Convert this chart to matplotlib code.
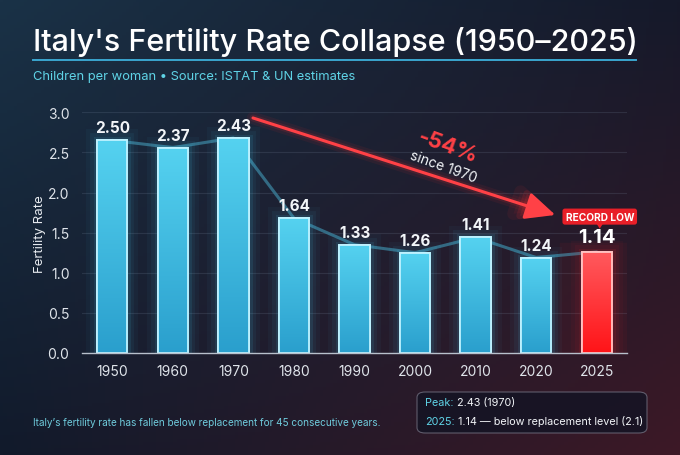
import numpy as np
import matplotlib
matplotlib.use("Agg")
import matplotlib.pyplot as plt
from matplotlib.patches import FancyArrowPatch, FancyBboxPatch, Polygon
from matplotlib.colors import LinearSegmentedColormap, to_rgb

plt.rcParams['font.family'] = ['Inter', 'DejaVu Sans']

# ---------------- DATA ----------------
years       = ["1950", "1960", "1970", "1980", "1990", "2000", "2010", "2020", "2025"]
rate_labels = ["2.50", "2.37", "2.43", "1.64", "1.33", "1.26", "1.41", "1.24", "1.14"]
# bar heights as drawn in the picture
bar_tops    = [2.65, 2.56, 2.68, 1.68, 1.35, 1.25, 1.44, 1.19, 1.26]
y_ticks     = [0.0, 0.5, 1.0, 1.5, 2.0, 2.5, 3.0]

TITLE    = "Italy's Fertility Rate Collapse (1950\u20132025)"
SUBTITLE = "Children per woman \u2022 Source: ISTAT & UN estimates"
FOOTER   = "Italy\u2019s fertility rate has fallen below replacement for 45 consecutive years."

# ---------------- COLORS ----------------
CYAN      = "#5fd3e6"
BAR_TOP   = "#55d2f0"
BAR_BOT   = "#2a9fcd"
RED_TOP   = "#ff5a5e"
RED_BOT   = "#ff1418"
RED       = "#ff4146"
WHITE     = "#f2f5f8"

W, H = 680, 456
fig = plt.figure(figsize=(W / 100, H / 100), dpi=100)

# ---------------- BACKGROUND ----------------
bg = fig.add_axes([0, 0, 1, 1])
bg.set_axis_off()
tl, tr = np.array(to_rgb("#1a3247")), np.array(to_rgb("#15192a"))
bl, br = np.array(to_rgb("#111a2b")), np.array(to_rgb("#3d1826"))
u = np.linspace(0, 1, 200)[None, :, None]
v = np.linspace(0, 1, 140)[:, None, None]
img = (1 - v) * ((1 - u) * tl + u * tr) + v * ((1 - u) * bl + u * br)
bg.imshow(img, extent=[0, 1, 0, 1], aspect='auto', origin='upper')
bg.set_xlim(0, 1); bg.set_ylim(0, 1)

# ---------------- MAIN AXES ----------------
ax = fig.add_axes([82 / W, 1 - 354 / H, (627 - 82) / W, (354 - 113.3) / H])
ax.set_facecolor("none")
x = np.arange(len(years))
n = len(years)

for yt in y_ticks[1:]:
    ax.axhline(yt, color="#8090a8", lw=0.8, alpha=0.18, zorder=0)

# connecting line behind bars
ax.plot(x, bar_tops, color="#397d98", lw=2.2, alpha=0.8, zorder=1,
        solid_capstyle='round')

blue_cmap = LinearSegmentedColormap.from_list("b", [BAR_BOT, BAR_TOP])
red_cmap = LinearSegmentedColormap.from_list("r", [RED_BOT, RED_TOP])
grad = np.linspace(0, 1, 100)[:, None]

colors_glow = ["#45c8ee"] * (n - 1) + ["#ff2a2a"]
edges = ["#bff2ff"] * (n - 1) + ["#ffc4c4"]

# glow
for lw, a in [(16, 0.04), (10, 0.06), (5, 0.10)]:
    ax.bar(x, bar_tops, width=0.5, color="none", edgecolor=colors_glow,
           linewidth=lw, alpha=a, zorder=2)
ax.bar(x[-1], bar_tops[-1], width=0.9, color="none", edgecolor="#ff2020",
       linewidth=14, alpha=0.05, zorder=2)

bars = ax.bar(x, bar_tops, width=0.5, color=BAR_BOT, edgecolor=edges,
              linewidth=1.3, zorder=3)
for i, p in enumerate(bars):
    x0, w, h = p.get_x(), p.get_width(), p.get_height()
    cm = red_cmap if i == n - 1 else blue_cmap
    im = ax.imshow(grad, extent=[x0, x0 + w, 0, h], origin='lower',
                   aspect='auto', cmap=cm, zorder=3.5)
    im.set_clip_path(p)
    ax.bar(x[i], h, width=0.5, color="none", edgecolor=edges[i],
           linewidth=1.3, zorder=4)

# value labels
for i in range(n - 1):
    ax.annotate(rate_labels[i], (x[i], bar_tops[i]), xytext=(0, 9),
                textcoords='offset points', ha='center', va='center',
                color=WHITE, fontsize=11, fontweight='bold', zorder=6)
ax.annotate(rate_labels[-1], (x[-1], bar_tops[-1]), xytext=(0, 11),
            textcoords='offset points', ha='center', va='center',
            color="white", fontsize=14.5, fontweight='bold', zorder=6)

# record low badge
badge_x, badge_y = x[-1] + 0.05, bar_tops[-1] + 0.44
ax.annotate("RECORD LOW", (badge_x, badge_y), ha='center', va='center',
            color="white", fontsize=7.3, fontweight='bold', zorder=7,
            bbox=dict(boxstyle="round,pad=0.3,rounding_size=0.25",
                      fc="#e81f28", ec="none"))
ax.add_patch(Polygon([[badge_x - 0.06, badge_y - 0.08],
                      [badge_x + 0.06, badge_y - 0.08],
                      [badge_x, badge_y - 0.15]],
                     closed=True, fc="#e81f28", ec="none", zorder=7))

# trend arrow
arr_start, arr_end = (2.28, 2.94), (7.36, 1.71)
for lw, a in [(9, 0.07), (5, 0.13)]:
    ax.add_patch(FancyArrowPatch(arr_start, arr_end,
                                 arrowstyle="-|>,head_length=1.3,head_width=0.6",
                                 mutation_scale=14, lw=lw, color="#ff3030",
                                 alpha=a, zorder=5))
ax.add_patch(FancyArrowPatch(arr_start, arr_end,
                             arrowstyle="-|>,head_length=1.3,head_width=0.6",
                             mutation_scale=14, lw=2.2, color=RED, zorder=5))
ax.text(5.54, 2.58, "-54%", color=RED, fontsize=16, fontweight='bold',
        rotation=-20, ha='center', va='center', zorder=6)
ax.text(5.47, 2.33, "since 1970", color=WHITE, fontsize=10,
        rotation=-20, ha='center', va='center', zorder=6)

# axes styling
ax.set_xlim(-0.5, n - 0.5)
ax.set_ylim(0, 3.0)
ax.set_xticks(x)
ax.set_xticklabels(years)
ax.set_yticks(y_ticks)
ax.set_yticklabels([f"{t:.1f}" for t in y_ticks])
ax.tick_params(length=0, colors="#dfe4ea", labelsize=10)
ax.tick_params(axis='x', pad=8)
ax.tick_params(axis='y', pad=9)
for s in ["top", "right", "left"]:
    ax.spines[s].set_visible(False)
ax.spines["bottom"].set_color("#b8c0cc")
ax.spines["bottom"].set_linewidth(1.0)
ax.spines["bottom"].set_zorder(6)
ax.set_ylabel("Fertility Rate", color="#e6eaef", fontsize=9.5, labelpad=1)

# ---------------- TITLES ----------------
fig.text(33 / W, 1 - 51 / H, TITLE, color="white", fontsize=22,
         fontweight='medium', ha='left', va='baseline')
bg.plot([33 / W, 636 / W], [1 - 61 / H, 1 - 61 / H], color="#3aa6cf", lw=1.4)
fig.text(33 / W, 1 - 80 / H, SUBTITLE, color=CYAN, fontsize=9.3,
         ha='left', va='baseline')

# ---------------- FOOTER ----------------
fig.text(33 / W, 1 - 423 / H, FOOTER, color="#6fcbdc", fontsize=7.2,
         ha='left', va='center')
bg.add_patch(FancyBboxPatch((417 / W, 1 - 434 / H), (647 - 417) / W,
                            (434 - 393) / H,
                            boxstyle="round,pad=0,rounding_size=0.012",
                            fc="#141424", ec="#6a6878", lw=0.8, alpha=0.85))
t1 = fig.text(425 / W, 1 - 403 / H, "Peak:", color=CYAN, fontsize=7.8,
              ha='left', va='center')
t2 = fig.text(425 / W, 1 - 422 / H, "2025:", color=CYAN, fontsize=7.8,
              ha='left', va='center')
fig.canvas.draw()
r = fig.canvas.get_renderer()
for t, rest in [(t1, " 2.43 (1970)"), (t2, " 1.14 \u2014 below replacement level (2.1)")]:
    bb = t.get_window_extent(r)
    fig.text(bb.x1 / W, t.get_position()[1], rest, color=WHITE, fontsize=7.8,
             ha='left', va='center')

fig.savefig("out.png", dpi=100)
